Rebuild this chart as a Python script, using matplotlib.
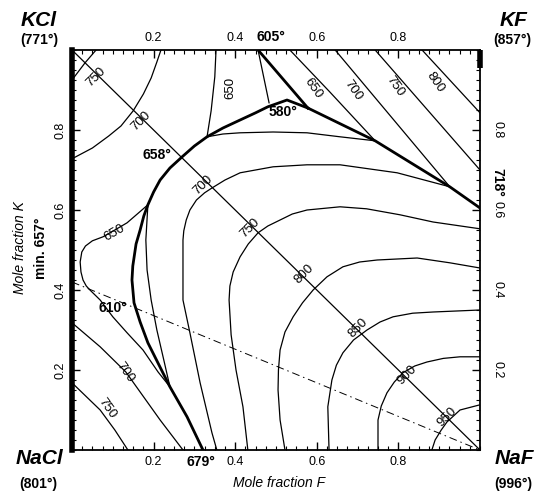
import numpy as np
import matplotlib.pyplot as plt
from matplotlib.ticker import MultipleLocator

plt.rcParams['font.family'] = ['Liberation Sans', 'DejaVu Sans']

# ---- data: mole fraction F (x) / mole fraction K (y) ----

# phase boundaries (thick)
bound_left_x = [0.321, 0.282, 0.240, 0.213, 0.186, 0.167, 0.152, 0.147, 0.149, 0.157, 0.167,
                0.176, 0.186, 0.200, 0.216, 0.240, 0.270, 0.300, 0.331, 0.370, 0.412, 0.450,
                0.480, 0.505, 0.527, 0.578]
bound_left_y = [0.000, 0.083, 0.158, 0.213, 0.268, 0.320, 0.368, 0.425, 0.460, 0.515, 0.550,
                0.585, 0.613, 0.645, 0.675, 0.705, 0.733, 0.760, 0.783, 0.805, 0.825, 0.843,
                0.858, 0.867, 0.875, 0.855]
bound_kf_x = [0.578, 0.743, 0.926, 1.000]
bound_kf_y = [0.855, 0.773, 0.658, 0.605]
bound_top_x = [0.456, 0.578]
bound_top_y = [1.000, 0.855]
thin_top_x = [0.456, 0.483]
thin_top_y = [1.000, 0.868]

# KCl field isotherms
kcl_750_x = [0.059, 0.032, 0.000]
kcl_750_y = [1.000, 0.968, 0.925]
kcl_700_x = [0.218, 0.208, 0.194, 0.175, 0.150, 0.120, 0.090, 0.050, 0.000]
kcl_700_y = [1.000, 0.970, 0.930, 0.890, 0.848, 0.810, 0.785, 0.755, 0.728]
kcl_650_x = [0.353, 0.350, 0.341, 0.331]
kcl_650_y = [1.000, 0.933, 0.848, 0.783]
loop_650_x = [0.186, 0.160, 0.135, 0.105, 0.076, 0.050, 0.033, 0.024, 0.020, 0.022, 0.027,
              0.035, 0.044, 0.069, 0.100, 0.135, 0.174, 0.211, 0.240]
loop_650_y = [0.613, 0.590, 0.568, 0.550, 0.533, 0.523, 0.510, 0.495, 0.470, 0.445, 0.425,
              0.410, 0.400, 0.375, 0.333, 0.293, 0.250, 0.195, 0.158]

# NaCl field isotherms
nacl_700_x = [0.000, 0.069, 0.132, 0.167, 0.216, 0.272]
nacl_700_y = [0.318, 0.258, 0.195, 0.145, 0.075, 0.000]
nacl_750_x = [0.000, 0.069, 0.105, 0.137]
nacl_750_y = [0.168, 0.100, 0.050, 0.000]

# NaF field isotherms
naf_650a_x = [0.186, 0.181, 0.184, 0.194, 0.208, 0.225, 0.240]
naf_650a_y = [0.613, 0.525, 0.450, 0.375, 0.300, 0.225, 0.158]
naf_650b_x = [0.331, 0.370, 0.412, 0.493, 0.576, 0.657, 0.743]
naf_650b_y = [0.783, 0.790, 0.793, 0.795, 0.793, 0.783, 0.773]
naf_700_x = [0.355, 0.343, 0.314, 0.289, 0.272, 0.272, 0.274, 0.280, 0.289, 0.305, 0.325,
             0.343, 0.375, 0.412, 0.493, 0.576, 0.657, 0.797, 0.926]
naf_700_y = [0.000, 0.043, 0.168, 0.293, 0.375, 0.525, 0.548, 0.575, 0.600, 0.625, 0.643,
             0.655, 0.675, 0.693, 0.708, 0.713, 0.713, 0.693, 0.658]
naf_750_x = [0.431, 0.419, 0.402, 0.390, 0.385, 0.387, 0.395, 0.412, 0.432, 0.456, 0.480,
             0.510, 0.540, 0.576, 0.657, 0.722, 0.804, 0.885, 1.000]
naf_750_y = [0.000, 0.108, 0.200, 0.288, 0.375, 0.410, 0.445, 0.483, 0.515, 0.543, 0.560,
             0.575, 0.590, 0.600, 0.608, 0.603, 0.588, 0.570, 0.553]
naf_800_x = [0.522, 0.510, 0.505, 0.506, 0.510, 0.522, 0.542, 0.565, 0.591, 0.625, 0.664,
             0.705, 0.748, 0.846, 0.926, 1.000]
naf_800_y = [0.000, 0.075, 0.150, 0.200, 0.250, 0.295, 0.333, 0.368, 0.400, 0.433, 0.458,
             0.470, 0.475, 0.480, 0.468, 0.455]
naf_850_x = [0.630, 0.627, 0.637, 0.648, 0.664, 0.690, 0.723, 0.755, 0.787, 0.835, 0.885,
             1.000]
naf_850_y = [0.000, 0.108, 0.175, 0.212, 0.243, 0.275, 0.300, 0.320, 0.333, 0.342, 0.345,
             0.350]
naf_900_x = [0.750, 0.750, 0.758, 0.772, 0.790, 0.811, 0.840, 0.870, 0.910, 0.951, 1.000]
naf_900_y = [0.000, 0.075, 0.110, 0.143, 0.170, 0.193, 0.210, 0.220, 0.229, 0.233, 0.233]
naf_950_x = [0.882, 0.890, 0.905, 0.919, 0.951, 1.000]
naf_950_y = [0.000, 0.025, 0.050, 0.070, 0.100, 0.113]

# KF field isotherms
kf_650_x = [0.534, 0.632, 0.743]
kf_650_y = [1.000, 0.895, 0.773]
kf_700_x = [0.645, 0.926]
kf_700_y = [1.000, 0.658]
kf_750_x = [0.743, 1.000]
kf_750_y = [1.000, 0.700]
kf_800_x = [0.858, 1.000]
kf_800_y = [1.000, 0.843]

# dash-dot line
dd_x = [0.0, 1.0]
dd_y = [0.42, 0.0]

# isotherm labels: text, x, y, rotation
iso_text = ['750', '700', '700', '750', '800', '850', '900', '950',
            '650', '650', '700', '750', '650', '700', '750', '800']
iso_x = [0.059, 0.169, 0.321, 0.436, 0.569, 0.701, 0.821, 0.919,
         0.387, 0.105, 0.130, 0.086, 0.591, 0.689, 0.792, 0.890]
iso_y = [0.933, 0.823, 0.663, 0.555, 0.440, 0.305, 0.188, 0.083,
         0.905, 0.543, 0.193, 0.105, 0.905, 0.900, 0.908, 0.918]
iso_rot = [45, 45, 45, 45, 45, 45, 45, 45,
           90, 30, -55, -55, -55, -55, -55, -55]

# special temperatures
pt_text = ['580°', '658°', '610°', '679°', '605°']
pt_x = [0.517, 0.208, 0.100, 0.316, 0.488]
pt_y = [0.845, 0.738, 0.355, -0.030, 1.033]

ticks = [0.2, 0.4, 0.6, 0.8]

# ---- figure ----
fig = plt.figure(figsize=(5.42, 4.93), dpi=100)
ax = fig.add_axes([72/542, 43/493, 408/542, 400/493])
ax.set_xlim(0, 1)
ax.set_ylim(0, 1)

thin = dict(color='black', lw=0.9)
thick = dict(color='black', lw=2.0)

ax.plot([0, 1], [1, 0], **thin)
ax.plot(dd_x, dd_y, color='black', lw=0.7, dashes=(8, 4, 1.5, 4))

for xs, ys in [(bound_left_x, bound_left_y), (bound_kf_x, bound_kf_y), (bound_top_x, bound_top_y)]:
    ax.plot(xs, ys, **thick)
ax.plot(thin_top_x, thin_top_y, **thin)

for xs, ys in [(kcl_750_x, kcl_750_y), (kcl_700_x, kcl_700_y), (kcl_650_x, kcl_650_y),
               (loop_650_x, loop_650_y), (nacl_700_x, nacl_700_y), (nacl_750_x, nacl_750_y),
               (naf_650a_x, naf_650a_y), (naf_650b_x, naf_650b_y), (naf_700_x, naf_700_y),
               (naf_750_x, naf_750_y), (naf_800_x, naf_800_y), (naf_850_x, naf_850_y),
               (naf_900_x, naf_900_y), (naf_950_x, naf_950_y),
               (kf_650_x, kf_650_y), (kf_700_x, kf_700_y), (kf_750_x, kf_750_y),
               (kf_800_x, kf_800_y)]:
    ax.plot(xs, ys, **thin)

for t, x, y, r in zip(iso_text, iso_x, iso_y, iso_rot):
    ax.text(x, y, t, rotation=r, ha='center', va='center', fontsize=9.5,
            rotation_mode='anchor')

for t, x, y in zip(pt_text, pt_x, pt_y):
    ax.text(x, y, t, ha='center', va='center', fontsize=10, fontweight='bold', clip_on=False)
ax.text(1.042, 0.67, '718°', rotation=-90, ha='center', va='center',
        fontsize=10, fontweight='bold')

# axes styling
for s in ax.spines.values():
    s.set_linewidth(1.3)
ax.spines['left'].set_linewidth(4)
ax.plot([1, 1], [0.955, 1.0], color='black', lw=4, clip_on=False, solid_capstyle='butt')

ax.set_xticks(ticks)
ax.set_yticks(ticks)
ax.xaxis.set_minor_locator(MultipleLocator(0.025))
ax.yaxis.set_minor_locator(MultipleLocator(0.025))
ax.tick_params(which='both', direction='in', top=True, right=True,
               labeltop=True, labelsize=9, pad=4)
ax.tick_params(which='major', length=6, width=1)
ax.tick_params(which='minor', length=3, width=0.8)
ax.yaxis.set_tick_params(labelrotation=90)
for lab in ax.yaxis.get_majorticklabels():
    lab.set_va('center')
# right side labels read top-to-bottom
ax.tick_params(axis='y', which='major', labelright=False)
for v in ticks:
    ax.text(1.042, v, f'{v:.1f}', rotation=-90, ha='center', va='center', fontsize=9)

ax.text(0.507, -0.083, 'Mole fraction F', style='italic', fontsize=10,
        ha='center', va='center')
ax.text(-0.128, 0.505, 'Mole fraction K', style='italic', fontsize=10,
        rotation=90, ha='center', va='center')
ax.text(-0.077, 0.505, 'min. 657°', fontweight='bold', fontsize=10,
        rotation=90, ha='center', va='center')

# corner compounds
fig.text(39/542, 1 - 20/493, 'KCl', fontsize=15, fontweight='bold', style='italic',
         ha='center', va='center')
fig.text(39/542, 1 - 40/493, '(771°)', fontsize=10, fontweight='bold', ha='center', va='center')
fig.text(514/542, 1 - 20/493, 'KF', fontsize=15, fontweight='bold', style='italic',
         ha='center', va='center')
fig.text(512/542, 1 - 40/493, '(857°)', fontsize=10, fontweight='bold', ha='center', va='center')
fig.text(39/542, 1 - 458/493, 'NaCl', fontsize=15, fontweight='bold', style='italic',
         ha='center', va='center')
fig.text(38/542, 1 - 484/493, '(801°)', fontsize=10, fontweight='bold', ha='center', va='center')
fig.text(514/542, 1 - 458/493, 'NaF', fontsize=15, fontweight='bold', style='italic',
         ha='center', va='center')
fig.text(513/542, 1 - 484/493, '(996°)', fontsize=10, fontweight='bold', ha='center', va='center')

fig.savefig('out.png', dpi=100)
